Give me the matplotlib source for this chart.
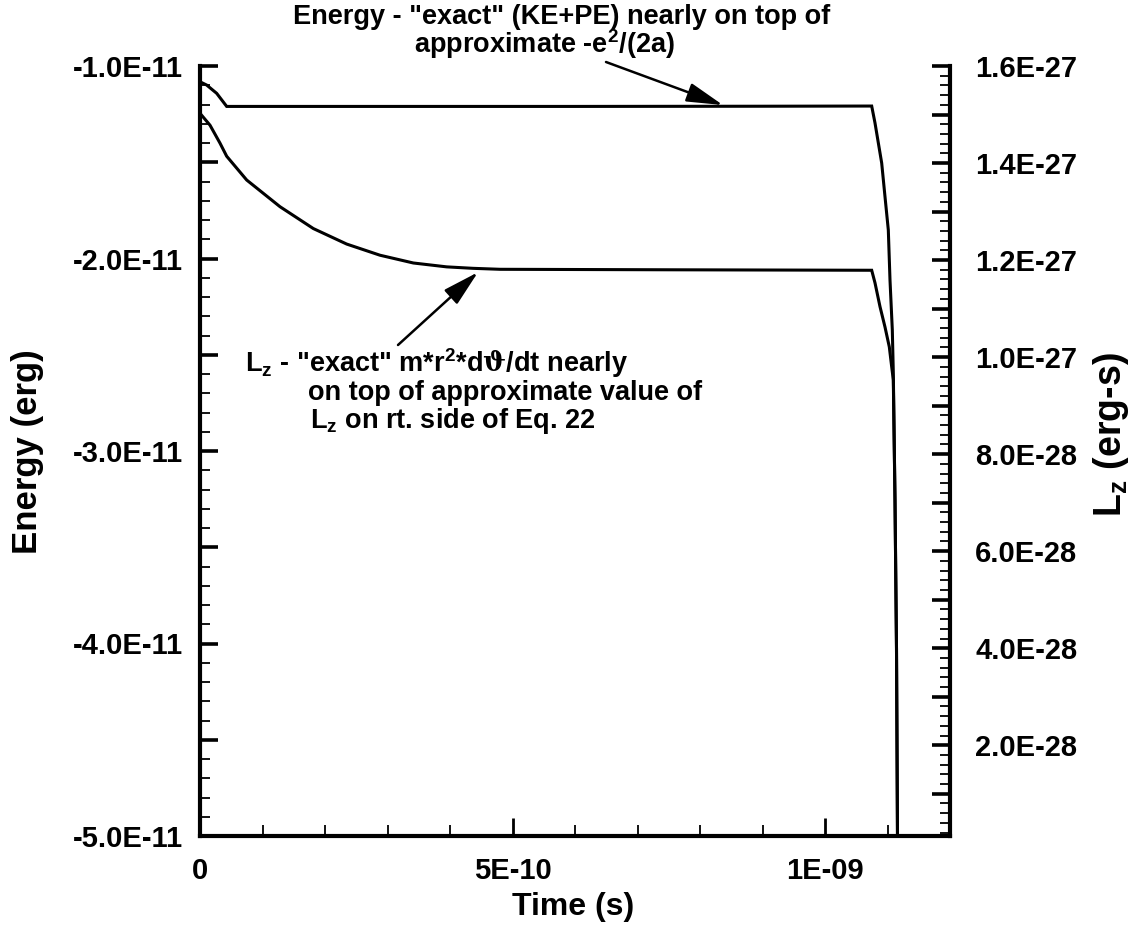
import matplotlib
matplotlib.use("Agg")
import matplotlib.pyplot as plt
from matplotlib.ticker import FixedLocator, MultipleLocator, FixedFormatter

# ---------------- data ----------------
# Energy curve (left axis), time in s, energy in erg
time_energy = [0.0, 0.0107e-9, 0.0267e-9, 0.0427e-9, 0.30e-9, 0.60e-9, 0.90e-9,
               1.0747e-9, 1.080e-9, 1.0907e-9, 1.096e-9, 1.1013e-9, 1.104e-9,
               1.1077e-9, 1.1093e-9, 1.112e-9, 1.1144e-9, 1.116e-9, 1.1162e-9]
energy = [-1.082e-11, -1.099e-11, -1.142e-11, -1.210e-11, -1.210e-11, -1.210e-11,
          -1.209e-11, -1.208e-11, -1.296e-11, -1.504e-11, -1.679e-11, -1.852e-11,
          -2.112e-11, -2.371e-11, -2.595e-11, -3.255e-11, -4.03e-11, -5.0e-11, -5.5e-11]

# Lz curve (right axis), time in s, Lz in erg-s
time_lz = [0.0, 0.016e-9, 0.032e-9, 0.0427e-9, 0.0747e-9, 0.128e-9, 0.1813e-9,
           0.2347e-9, 0.288e-9, 0.3413e-9, 0.3947e-9, 0.4368e-9, 0.48e-9, 0.75e-9,
           1.0747e-9, 1.080e-9, 1.088e-9, 1.096e-9, 1.1029e-9, 1.1067e-9, 1.1093e-9,
           1.112e-9, 1.1144e-9, 1.116e-9, 1.1162e-9]
lz = [1.5025e-27, 1.478e-27, 1.441e-27, 1.414e-27, 1.365e-27, 1.310e-27, 1.265e-27,
      1.233e-27, 1.210e-27, 1.194e-27, 1.186e-27, 1.183e-27, 1.181e-27, 1.180e-27,
      1.179e-27, 1.153e-27, 1.104e-27, 1.062e-27, 1.021e-27, 0.980e-27, 0.953e-27,
      0.705e-27, 0.40e-27, 0.0, -0.1e-27]

# ticks
x_major = [0.0, 5e-10, 1e-9]
x_labels = ["0", "5E-10", "1E-09"]
left_major = [-5e-11, -4.5e-11, -4e-11, -3.5e-11, -3e-11, -2.5e-11, -2e-11, -1.5e-11, -1e-11]
left_labels = ["-5.0E-11", "", "-4.0E-11", "", "-3.0E-11", "", "-2.0E-11", "", "-1.0E-11"]
right_major = [1e-28, 2e-28, 3e-28, 4e-28, 5e-28, 6e-28, 7e-28, 8e-28, 9e-28, 1.0e-27,
               1.1e-27, 1.2e-27, 1.3e-27, 1.4e-27, 1.5e-27, 1.6e-27]
right_labels = ["", "2.0E-28", "", "4.0E-28", "", "6.0E-28", "", "8.0E-28", "", "1.0E-27",
                "", "1.2E-27", "", "1.4E-27", "", "1.6E-27"]

# ---------------- style ----------------
FONT = "Liberation Sans"
plt.rcParams["font.family"] = [FONT, "DejaVu Sans"]
plt.rcParams["font.weight"] = "bold"
plt.rcParams["mathtext.fontset"] = "custom"
plt.rcParams["mathtext.rm"] = FONT + ":bold"
plt.rcParams["mathtext.it"] = FONT + ":bold"
plt.rcParams["mathtext.bf"] = FONT + ":bold"
plt.rcParams["mathtext.cal"] = "DejaVu Serif"
plt.rcParams["mathtext.default"] = "regular"

W, H = 1143, 934
fig = plt.figure(figsize=(W / 100, H / 100), dpi=100)
L, R, B, T = 200, 950, 836, 66
ax = fig.add_axes([L / W, 1 - B / H, (R - L) / W, (B - T) / H])
ax2 = ax.twinx()


def fx(px):
    return px / W


def fy(py):
    return 1 - py / H


ax.plot(time_energy, energy, color="k", lw=2.2, solid_joinstyle="miter")
ax2.plot(time_lz, lz, color="k", lw=2.2, solid_joinstyle="miter")

ax.set_xlim(0, 1.2e-9)
ax.set_ylim(-5e-11, -1e-11)
ax2.set_ylim(1.3e-29, 1.6e-27)

for a in (ax, ax2):
    a.spines["top"].set_visible(False)
    for s in ("left", "right", "bottom"):
        a.spines[s].set_linewidth(3)
    a.patch.set_visible(False)

ax.spines["right"].set_visible(False)
ax2.spines["left"].set_visible(False)
ax2.spines["bottom"].set_visible(False)

tick_fs = 21
ax.xaxis.set_major_locator(FixedLocator(x_major))
ax.xaxis.set_major_formatter(FixedFormatter(x_labels))
ax.xaxis.set_minor_locator(MultipleLocator(1e-10))
ax.yaxis.set_major_locator(FixedLocator(left_major))
ax.yaxis.set_major_formatter(FixedFormatter(left_labels))
ax.yaxis.set_minor_locator(MultipleLocator(1e-12))
ax2.yaxis.set_major_locator(FixedLocator(right_major))
ax2.yaxis.set_major_formatter(FixedFormatter(right_labels))
ax2.yaxis.set_minor_locator(MultipleLocator(2e-29))

ax.tick_params(axis="x", which="major", direction="in", length=13, width=2, pad=15,
               labelsize=tick_fs)
ax.tick_params(axis="x", which="minor", direction="in", length=8, width=1.3)
ax.tick_params(axis="y", which="major", direction="in", length=13, width=2.6, pad=12,
               labelsize=tick_fs)
ax.tick_params(axis="y", which="minor", direction="in", length=7, width=1.3)
ax2.tick_params(axis="y", which="major", direction="in", length=13, width=2.6, pad=18,
                labelsize=tick_fs)
ax2.tick_params(axis="y", which="minor", direction="in", length=7, width=1.3)

for lab in ax.get_xticklabels() + ax.get_yticklabels() + ax2.get_yticklabels():
    lab.set_fontweight("bold")

# axis titles
fig.text(fx(28), fy(452), "Energy (erg)", rotation=90, ha="center", va="center",
         fontsize=25, fontweight="bold")
fig.text(fx(573), fy(907), "Time (s)", ha="center", va="center",
         fontsize=23, fontweight="bold")
fig.text(fx(1111), fy(435), r"L$_z$ (erg-s)", rotation=90, ha="center", va="center",
         fontsize=27, fontweight="bold")

# annotations
ann_fs = 19.5
fig.text(fx(293), fy(17), 'Energy - "exact" (KE+PE) nearly on top of',
         ha="left", va="center", fontsize=ann_fs, fontweight="bold")
fig.text(fx(414), fy(44), r'approximate -e$^2$/(2a)',
         ha="left", va="center", fontsize=ann_fs, fontweight="bold")

fig.text(fx(245), fy(363), r'L$_z$ - "exact" m*r$^2$*d$\mathcal{\vartheta}$/dt nearly',
         ha="left", va="center", fontsize=ann_fs, fontweight="bold")
fig.text(fx(308), fy(393), 'on top of approximate value of',
         ha="left", va="center", fontsize=ann_fs, fontweight="bold")
fig.text(fx(310), fy(421), r'L$_z$ on rt. side of Eq. 22',
         ha="left", va="center", fontsize=ann_fs, fontweight="bold")

arrow = dict(arrowstyle="-|>,head_length=1.6,head_width=0.42", color="k", lw=1.8,
             shrinkA=0, shrinkB=0, mutation_scale=14)
ax.annotate("", xy=(0.8368e-9, -1.203e-11), xycoords="data",
            xytext=(fx(606), fy(62)), textcoords="figure fraction", arrowprops=arrow)
ax2.annotate("", xy=(0.4448e-9, 1.175e-27), xycoords="data",
             xytext=(fx(398), fy(345)), textcoords="figure fraction", arrowprops=arrow)

fig.savefig("out.png", dpi=100)
